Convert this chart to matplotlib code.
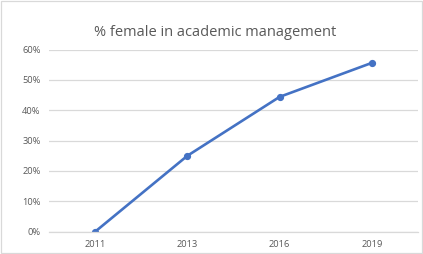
import matplotlib
matplotlib.use('Agg')
import matplotlib.pyplot as plt
from matplotlib.ticker import PercentFormatter
from matplotlib.patches import Rectangle

# Data
years = ['2011', '2013', '2016', '2019']
pct_female = [0.0, 25.0, 44.4, 55.6]

line_color = '#4472C4'
text_color = '#595959'
grid_color = '#D9D9D9'

plt.rcParams['font.family'] = ['Open Sans', 'DejaVu Sans']

fig = plt.figure(figsize=(4.23, 2.54), dpi=100)
ax = fig.add_axes([0.116, 0.088, 0.872, 0.717])

x = range(len(years))
ax.plot(x, pct_female, color=line_color, linewidth=1.9, marker='o', markersize=4.2)

ax.set_xlim(-0.5, len(years) - 0.5)
ax.set_ylim(0, 60)
ax.set_yticks(range(0, 61, 10))
ax.yaxis.set_major_formatter(PercentFormatter(decimals=0))
ax.set_xticks(list(x))
ax.set_xticklabels(years)

ax.grid(axis='y', color=grid_color, linewidth=0.9)
ax.set_axisbelow(True)
for side in ['top', 'right', 'left']:
    ax.spines[side].set_visible(False)
ax.spines['bottom'].set_color(grid_color)
ax.spines['bottom'].set_linewidth(0.9)
ax.tick_params(axis='both', length=0, labelsize=6.7, colors=text_color)
ax.tick_params(axis='y', pad=6)
ax.tick_params(axis='x', pad=6)

fig.text(0.508, 0.874, '% female in academic management', ha='center', va='center',
         fontsize=10.5, color=text_color)

# light outer border like the chart frame
fig.patches.append(Rectangle((0.002, 0.004), 0.995, 0.992, transform=fig.transFigure,
                             fill=False, edgecolor='#D9D9D9', linewidth=0.9))

fig.savefig('out.png', dpi=100)
